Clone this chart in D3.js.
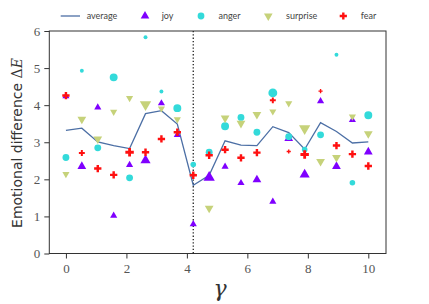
<!DOCTYPE html>
<html>
<head>
<meta charset="utf-8">
<script src="https://cdn.jsdelivr.net/npm/d3@7"></script>
<style>
  body { margin: 0; background: #fff; }
  .axis text { font-family: "Liberation Serif", serif; font-size: 13px; fill: #555; }
  .axis path, .axis line { stroke: #333; }
  .legend text { font-family: Lato, sans-serif; font-size: 9px; fill: #444; }
</style>
</head>
<body>
<div id="container"></div>
<script>
const WIDTH = 429;
const HEIGHT = 304;
const LEFT = 49.3, RIGHT = 386, TOP = 31, BOTTOM = 253.5;

// gamma values (20 steps from 0 to 10)
var GAMMA = [0, 0.526, 1.053, 1.579, 2.105, 2.632, 3.158, 3.684, 4.211, 4.737,
    5.263, 5.789, 6.316, 6.842, 7.368, 7.895, 8.421, 8.947, 9.474, 10];
var SPLIT = 4.211;

var AVERAGE = [3.32, 3.38, 3.01, 2.91, 2.83, 3.77, 3.85, 3.49, 1.84, 2.11,
    3.04, 2.92, 2.91, 3.42, 3.26, 2.81, 3.53, 3.29, 2.98, 3.01];
var JOY = [4.24, 2.35, 3.94, 1.02, 2.39, 2.51, 4.05, 3.20, 0.79, 2.05,
    2.34, 1.90, 1.99, 1.40, 3.10, 2.13, 4.11, 2.35, 3.60, 2.74];
var ANGER = [2.59, 4.93, 2.85, 4.75, 2.04, 5.83, 4.37, 3.92, 2.40, 2.73,
    3.43, 3.67, 3.27, 4.33, 3.15, 2.80, 3.20, 5.36, 1.91, 3.73];
var SURPRISE = [2.14, 3.62, 3.09, 3.82, 4.19, 4.02, 3.91, 3.62, 2.12, 1.22,
    3.65, 3.51, 3.75, 3.83, 4.05, 3.37, 2.48, 2.59, 3.69, 3.23];
var FEAR = [4.26, 2.71, 2.29, 2.12, 2.73, 2.73, 3.09, 3.27, 2.11, 2.65,
    2.80, 2.58, 2.72, 4.13, 2.75, 2.67, 4.38, 2.91, 2.68, 2.36];

// marker weight (1 = small .. 3 = large)
var JOY_W = [1.5, 2, 1.5, 1.5, 1.5, 2.5, 1.5, 1.5, 1.5, 3,
    1.5, 1.5, 2, 1.5, 2, 2.5, 1.5, 2, 1.5, 2];
var ANGER_W = [2, 1, 2, 2.5, 2, 1, 1, 2.5, 1.5, 2,
    2.5, 2, 2, 3, 2, 1.5, 2, 1, 1.5, 2.5];
var SURPRISE_W = [1.5, 2, 2, 1.5, 1.5, 3, 1.5, 1.5, 1, 2,
    2, 2, 2, 1.5, 1.5, 3, 2, 2, 1.5, 2];
var FEAR_W = [2, 1.5, 2, 2, 2.5, 2, 2, 2, 2, 2,
    2, 2, 2, 1.5, 1, 2.5, 1, 2, 2, 2];

var Y_TICKS = [0, 1, 2, 3, 4, 5, 6];
var X_TICKS = [0, 2, 4, 6, 8, 10];

var SERIES = [
    {name: "joy", values: JOY, weights: JOY_W, symbol: d3.symbolTriangle, rotate: 0, scale: 0.9, color: "#7f00ff"},
    {name: "anger", values: ANGER, weights: ANGER_W, symbol: d3.symbolCircle, rotate: 0, scale: 1, color: "#33dada"},
    {name: "surprise", values: SURPRISE, weights: SURPRISE_W, symbol: d3.symbolTriangle, rotate: 180, scale: 0.9, color: "#c6d27a"},
    {name: "fear", values: FEAR, weights: FEAR_W, symbol: d3.symbolCross, rotate: 0, scale: 0.8, color: "#ff1010"}
];

var XScale = d3.scaleLinear().domain([-0.55, 10.585]).range([LEFT, RIGHT]);
var YScale = d3.scaleLinear().domain([0, 6]).range([BOTTOM, TOP]);
var SizeScale = d3.scaleLinear().domain([1, 3]).range([12, 62]);

var translate = function (x, y) {
    return "translate(" + x + "," + y + ")";
};

var svg = d3.select("#container").append("svg")
    .attr("width", WIDTH)
    .attr("height", HEIGHT);

// frame
svg.append("rect")
    .attr("x", LEFT).attr("y", TOP)
    .attr("width", RIGHT - LEFT).attr("height", BOTTOM - TOP)
    .attr("fill", "none").attr("stroke", "#333").attr("stroke-width", 1);

svg.append("g")
    .attr("class", "axis")
    .attr("transform", translate(0, BOTTOM))
    .call(d3.axisBottom(XScale).tickValues(X_TICKS).tickFormat(d3.format("d")).tickSize(5).tickPadding(5))
    .call(function (g) { g.select(".domain").remove(); });

svg.append("g")
    .attr("class", "axis")
    .attr("transform", translate(LEFT, 0))
    .call(d3.axisLeft(YScale).tickValues(Y_TICKS).tickFormat(d3.format("d")).tickSize(5).tickPadding(4))
    .call(function (g) { g.select(".domain").remove(); });

// split marker
svg.append("line")
    .attr("x1", XScale(SPLIT)).attr("x2", XScale(SPLIT))
    .attr("y1", TOP).attr("y2", BOTTOM)
    .attr("stroke", "#222").attr("stroke-width", 1.3)
    .attr("stroke-dasharray", "1.3,2");

var line = d3.line()
    .x(function (d, i) { return XScale(GAMMA[i]); })
    .y(function (d) { return YScale(d); });

svg.append("path")
    .datum(AVERAGE)
    .attr("d", line)
    .attr("fill", "none")
    .attr("stroke", "#4c6fa5")
    .attr("stroke-width", 1.3);

SERIES.forEach(function (s) {
    svg.append("g").selectAll("path")
        .data(s.values)
        .enter().append("path")
        .attr("d", function (d, i) { return d3.symbol(s.symbol, SizeScale(s.weights[i]) * s.scale)(); })
        .attr("transform", function (d, i) {
            return translate(XScale(GAMMA[i]), YScale(d)) + " rotate(" + s.rotate + ")";
        })
        .attr("fill", s.color);
});

// legend
var legend = svg.append("g").attr("class", "legend");
legend.append("line")
    .attr("x1", 60.7).attr("x2", 80).attr("y1", 16).attr("y2", 16)
    .attr("stroke", "#4c6fa5").attr("stroke-width", 1.3);
legend.append("text").attr("x", 86.7).attr("y", 19).text("average");

var legendPos = [[145, 161.7], [201, 218.5], [268.3, 286], [343.3, 360.7]];
SERIES.forEach(function (s, i) {
    legend.append("path")
        .attr("d", d3.symbol(s.symbol, 36 * s.scale)())
        .attr("transform", translate(legendPos[i][0], 16) + " rotate(" + s.rotate + ")")
        .attr("fill", s.color);
    legend.append("text").attr("x", legendPos[i][1]).attr("y", 19).text(s.name);
});

// axis labels
var ylab = svg.append("text")
    .attr("transform", translate(22, 143) + " rotate(-90)")
    .attr("text-anchor", "middle")
    .style("font-family", "'DejaVu Sans', sans-serif")
    .style("font-size", "14px")
    .attr("fill", "#333");
ylab.append("tspan").text("Emotional difference ");
ylab.append("tspan")
    .style("font-family", "'DejaVu Serif', serif")
    .text("Δ");
ylab.append("tspan")
    .style("font-family", "'DejaVu Serif', serif")
    .style("font-style", "italic")
    .text("E");

svg.append("text")
    .attr("x", 220).attr("y", 296)
    .attr("text-anchor", "middle")
    .style("font-family", "'DejaVu Serif', serif")
    .style("font-style", "italic")
    .style("font-size", "22px")
    .attr("fill", "#333")
    .text("γ");
</script>
</body>
</html>
